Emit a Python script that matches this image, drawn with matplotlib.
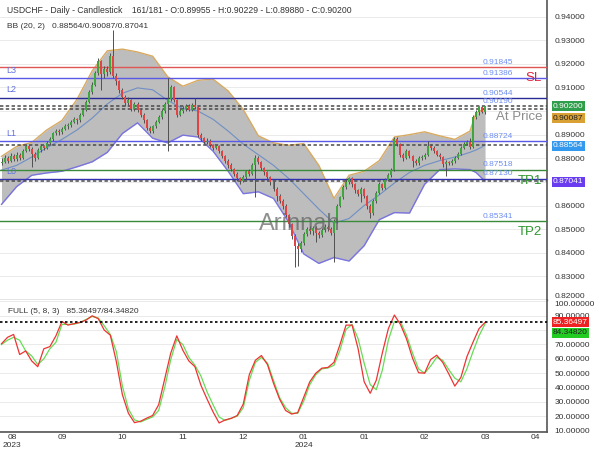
import matplotlib
matplotlib.use("Agg")
import matplotlib.pyplot as plt
import matplotlib.transforms as mtrans
import numpy as np

plt.rcParams["font.family"] = ["Liberation Sans", "DejaVu Sans"]

# USDCHF daily candles (161 of 181 slots)
FIRST_OPEN = 0.8780
CLOSES = [
    0.8785, 0.8800, 0.8790, 0.8810, 0.8795, 0.8815, 0.8800, 0.8830, 0.8850, 0.8840,
    0.8820, 0.8800, 0.8835, 0.8850, 0.8845, 0.8865, 0.8880, 0.8905, 0.8915, 0.8910,
    0.8925, 0.8935, 0.8940, 0.8955, 0.8965, 0.8960, 0.8985, 0.9005, 0.9040, 0.9080,
    0.9110, 0.9160, 0.9210, 0.9155, 0.9180, 0.9165, 0.9235, 0.9150, 0.9125, 0.9090,
    0.9060, 0.9035, 0.9045, 0.9010, 0.9030, 0.9005, 0.8985, 0.8960, 0.8930, 0.8915,
    0.8935, 0.8955, 0.8975, 0.9000, 0.9030, 0.9050, 0.9100, 0.9045, 0.8985, 0.9000,
    0.9010, 0.9020, 0.9005, 0.9025, 0.9015, 0.8900, 0.8885, 0.8870, 0.8875, 0.8855,
    0.8845, 0.8850, 0.8830, 0.8810, 0.8790, 0.8770, 0.8755, 0.8735, 0.8715, 0.8705,
    0.8720, 0.8745, 0.8735, 0.8770, 0.8800, 0.8785, 0.8760, 0.8740, 0.8720, 0.8700,
    0.8670, 0.8640, 0.8620, 0.8600, 0.8560, 0.8520, 0.8470, 0.8430, 0.8415, 0.8440,
    0.8480, 0.8500, 0.8490, 0.8505, 0.8485, 0.8475, 0.8495, 0.8510, 0.8500, 0.8485,
    0.8535, 0.8600, 0.8635, 0.8680, 0.8700, 0.8715, 0.8690, 0.8665, 0.8650, 0.8670,
    0.8640, 0.8600, 0.8570, 0.8620, 0.8655, 0.8690, 0.8675, 0.8710, 0.8730, 0.8750,
    0.8880, 0.8860, 0.8815, 0.8800, 0.8830, 0.8810, 0.8790, 0.8780, 0.8800, 0.8805,
    0.8815, 0.8850, 0.8845, 0.8830, 0.8815, 0.8805, 0.8775, 0.8785, 0.8780, 0.8790,
    0.8800, 0.8820, 0.8845, 0.8862, 0.8868, 0.8848, 0.8975, 0.8995, 0.9015, 0.89955,
    0.9020,
]
HIGHS = [
    0.8800, 0.8812, 0.8808, 0.8822, 0.8818, 0.8825, 0.8822, 0.8840, 0.8862, 0.8858,
    0.8848, 0.8828, 0.8842, 0.8860, 0.8858, 0.8875, 0.8890, 0.8912, 0.8925, 0.8922,
    0.8932, 0.8945, 0.8950, 0.8962, 0.8975, 0.8972, 0.8992, 0.9012, 0.9048, 0.9088,
    0.9122, 0.9168, 0.9225, 0.9218, 0.9192, 0.9190, 0.9245, 0.9343, 0.9160, 0.9132,
    0.9098, 0.9068, 0.9058, 0.9052, 0.9040, 0.9038, 0.9012, 0.8990, 0.8965, 0.8938,
    0.8942, 0.8962, 0.8985, 0.9008, 0.9040, 0.9140, 0.9110, 0.9108, 0.9050, 0.9010,
    0.9020, 0.9030, 0.9028, 0.9035, 0.9057, 0.9020, 0.8905, 0.8890, 0.8885, 0.8880,
    0.8862, 0.8858, 0.8855, 0.8835, 0.8815, 0.8795, 0.8778, 0.8760, 0.8740, 0.8722,
    0.8728, 0.8752, 0.8755, 0.8778, 0.8815, 0.8808, 0.8790, 0.8765, 0.8745, 0.8725,
    0.8705, 0.8678, 0.8648, 0.8628, 0.8605, 0.8565, 0.8525, 0.8478, 0.8440, 0.8450,
    0.8488, 0.8510, 0.8512, 0.8515, 0.8512, 0.8492, 0.8505, 0.8520, 0.8518, 0.8508,
    0.8542, 0.8608, 0.8642, 0.8688, 0.8712, 0.8722, 0.8720, 0.8695, 0.8672, 0.8678,
    0.8675, 0.8645, 0.8605, 0.8628, 0.8662, 0.8698, 0.8695, 0.8718, 0.8738, 0.8758,
    0.8892, 0.8888, 0.8865, 0.8822, 0.8838, 0.8835, 0.8815, 0.8798, 0.8808, 0.8812,
    0.8822, 0.8875, 0.8860, 0.8852, 0.8835, 0.8822, 0.8810, 0.8792, 0.8790, 0.8798,
    0.8808, 0.8828, 0.8852, 0.8870, 0.8878, 0.8885, 0.8982, 0.9005, 0.9022, 0.9020,
    0.90229,
]
LOWS = [
    0.8770, 0.8778, 0.8782, 0.8785, 0.8788, 0.8790, 0.8792, 0.8795, 0.8825, 0.8832,
    0.8765, 0.8790, 0.8795, 0.8828, 0.8835, 0.8840, 0.8858, 0.8872, 0.8898, 0.8900,
    0.8902, 0.8918, 0.8925, 0.8932, 0.8948, 0.8945, 0.8955, 0.8978, 0.9000, 0.9035,
    0.9072, 0.9105, 0.9152, 0.9090, 0.9140, 0.9150, 0.9158, 0.9140, 0.9110, 0.9078,
    0.9050, 0.9020, 0.9025, 0.9000, 0.9002, 0.8995, 0.8975, 0.8950, 0.8918, 0.8905,
    0.8908, 0.8928, 0.8948, 0.8968, 0.8992, 0.8830, 0.9042, 0.9038, 0.8975, 0.8978,
    0.8992, 0.9002, 0.8998, 0.8998, 0.9008, 0.8890, 0.8875, 0.8862, 0.8862, 0.8848,
    0.8835, 0.8838, 0.8822, 0.8800, 0.8782, 0.8760, 0.8745, 0.8725, 0.8705, 0.8692,
    0.8698, 0.8712, 0.8726, 0.8728, 0.8635, 0.8775, 0.8750, 0.8730, 0.8710, 0.8688,
    0.8660, 0.8620, 0.8610, 0.8585, 0.8550, 0.8508, 0.8460, 0.8340, 0.8345, 0.8405,
    0.8432, 0.8470, 0.8480, 0.8475, 0.8446, 0.8462, 0.8468, 0.8488, 0.8490, 0.8475,
    0.8361, 0.8528, 0.8592, 0.8628, 0.8672, 0.8692, 0.8680, 0.8655, 0.8640, 0.8615,
    0.8630, 0.8585, 0.8548, 0.8560, 0.8612, 0.8648, 0.8665, 0.8668, 0.8702, 0.8722,
    0.8745, 0.8850, 0.8805, 0.8790, 0.8795, 0.8800, 0.8765, 0.8770, 0.8772, 0.8792,
    0.8798, 0.8810, 0.8835, 0.8822, 0.8808, 0.8796, 0.8765, 0.8725, 0.8770, 0.8772,
    0.8782, 0.8795, 0.8815, 0.8838, 0.8855, 0.8840, 0.8842, 0.8965, 0.8985, 0.8990,
    0.8988,
]

# Bollinger bands (20, 2) sampled along the chart
BB_IDX = list(range(0, 156, 5)) + [157, 159, 160]
BB_UPPER = [
    0.8808, 0.8850, 0.8867, 0.8920, 0.8960, 0.9050, 0.9170, 0.9255, 0.9262, 0.9250,
    0.9232, 0.9145, 0.9105, 0.9130, 0.9135, 0.9085, 0.9006, 0.8895, 0.8865, 0.8855,
    0.8862, 0.8770, 0.8630, 0.8728, 0.8745, 0.8790, 0.8890, 0.8900, 0.8912, 0.8895,
    0.8880, 0.8915, 0.8990, 0.9005, 0.90087,
]
BB_MID = [
    0.8750, 0.8770, 0.8805, 0.8845, 0.8880, 0.8920, 0.8970, 0.9030, 0.9075, 0.9098,
    0.9090, 0.9045, 0.9010, 0.9000, 0.8965, 0.8915, 0.8860, 0.8815, 0.8770, 0.8715,
    0.8650, 0.8585, 0.8525, 0.8545, 0.8600, 0.8645, 0.8695, 0.8740, 0.8770, 0.8790,
    0.8805, 0.8825, 0.8835, 0.8848, 0.88564,
]
BB_LOWER = [
    0.8605, 0.8680, 0.8728, 0.8738, 0.8745, 0.8764, 0.8785, 0.8825, 0.8905, 0.8950,
    0.8885, 0.8865, 0.8898, 0.8890, 0.8830, 0.8745, 0.8650, 0.8658, 0.8630, 0.8530,
    0.8395, 0.8355, 0.8380, 0.8365, 0.8430, 0.8540, 0.8570, 0.8568, 0.8690, 0.8752,
    0.8755, 0.8752, 0.8740, 0.8715, 0.87041,
]

# Full stochastic (5, 8, 3), every second bar
STOCH_IDX = list(range(0, 161, 2))
STOCH_K = [
    70.5, 75, 77, 63, 65.5, 58.5, 54.5, 67, 68.5, 76,
    86, 83.5, 84.5, 85.4, 87, 90, 88, 80, 76.5, 58,
    35, 22, 15.5, 16.5, 18.6, 20.5, 28, 46, 64, 76,
    66, 58.5, 54.5, 41.5, 32, 23, 15.3, 17.4, 18.5, 20.5,
    28.5, 49, 59, 62.3, 56, 43, 32, 24, 21.5, 22.5,
    33.2, 44, 50, 53.5, 54, 57.5, 70, 83.5, 83.5, 67,
    44, 36, 45, 64, 81, 90.5, 84, 74, 60.5, 50.3,
    50, 59.5, 62.5, 57.5, 49.5, 41, 47, 61.5, 71.5, 81,
    85.36497,
]
STOCH_D = [
    70, 73, 75, 73, 65.5, 62, 56, 60, 67, 71.5,
    84, 84, 84.2, 85.3, 87.5, 89.5, 88.5, 83, 77, 65,
    41, 25, 17.5, 16, 17.8, 19.5, 24, 40, 59.5, 73.5,
    70, 61, 55.5, 48, 37, 28, 19.5, 17, 18.6, 20,
    26, 45, 57.5, 61, 57, 45, 33, 26, 22, 22,
    30.5, 42, 49, 53, 53.6, 55.5, 66, 80.5, 84, 74,
    57, 42, 38.5, 52, 73, 86, 86, 76.5, 64, 53,
    50, 55, 61, 59, 52.5, 46.5, 44, 53, 65, 76,
    84.34820,
]

LEVEL_VALUES = [0.91845, 0.91386, 0.90544, 0.88724, 0.87518, 0.87130, 0.85341]
LEVEL_COLORS = ["#e05555", "#5a5ae6", "#2a2a96", "#5a5ae6", "#3a8a3a", "#3030b0", "#3a8a3a"]
LEVEL_TEXT = [0.91845, 0.91386, 0.90544, 0.90190, 0.88724, 0.87518, 0.87130, 0.85341]
DASHED_VALUES = [0.90200, 0.90087, 0.88564, 0.87041]

X_TICKS = [3.5, 20, 40, 60, 80, 100, 120, 140, 160, 176.5]
X_LABELS = ["08\n2023", "09", "10", "11", "12", "01\n2024", "01", "02", "03", "04"]
PRICE_TICKS = [round(0.82 + 0.01 * k, 2) for k in range(13)]
PRICE_HIDDEN = [0.87, 0.90]      # sit under the value boxes on the right
STOCH_TICKS = list(range(10, 101, 10))
STOCH_HIDDEN = [80]

GREEN = "#3fa63f"
RED = "#e04444"
GRID = "#e6e6e6"
TXT = "#333333"
W = 547.0

fig = plt.figure(figsize=(6, 4.5), dpi=100)
ax = fig.add_axes([0, 150 / 450, W / 600, 300 / 450])
ax2 = fig.add_axes([0, 18 / 450, W / 600, 132 / 450], sharex=ax)

for a in (ax, ax2):
    a.set_axisbelow(True)
    for s in ("top", "left"):
        a.spines[s].set_visible(False)
    a.spines["right"].set_color("#555555")
    a.spines["right"].set_linewidth(1.2)
    a.spines["bottom"].set_color("#777777")
    a.spines["bottom"].set_linewidth(1.0)
    a.tick_params(axis="both", which="both", length=0, labelsize=6, labelcolor=TXT)
    a.tick_params(axis="y", left=False, labelleft=False, labelright=True, pad=5.5)
    a.grid(True, which="minor", axis="x", color=GRID, lw=0.6)
    a.grid(True, which="major", axis="y", color=GRID, lw=0.6)

ax.set_xlim(-0.5, 180.5)
ax2.set_xticks(X_TICKS, X_LABELS)
ax2.set_xticks(range(20, 161, 20), minor=True)
ax.tick_params(axis="x", labelbottom=False)
ax2.tick_params(axis="x", pad=1.5)

# ---- main panel
ax.set_ylim(0.8200, 0.9470)
ax.set_yticks(PRICE_TICKS, ["" if v in PRICE_HIDDEN else f"{v:.5f}" for v in PRICE_TICKS])
ax.yaxis.get_major_ticks()[0].label2.set_va("bottom")

ax.fill_between(BB_IDX, BB_LOWER, BB_UPPER, color="#bdbdbd", lw=0, zorder=1)
ax.plot(BB_IDX, BB_UPPER, color="#d8aa60", lw=1.0, zorder=2)
ax.plot(BB_IDX, BB_LOWER, color="#7a74e0", lw=1.0, zorder=2)
ax.plot(BB_IDX, BB_MID, color="#6f8fc4", lw=0.8, zorder=2)

for v, c in zip(LEVEL_VALUES, LEVEL_COLORS):
    ax.axhline(v, color=c, lw=1.0, zorder=3)
for v in DASHED_VALUES:
    ax.axhline(v, color="#4a4a4a", lw=1.1, ls=(0, (2.2, 1.6)), zorder=3)

opens = np.r_[FIRST_OPEN, CLOSES[:-1]]
closes = np.array(CLOSES)
idx = np.arange(len(closes))
colors = np.where(closes >= opens, GREEN, RED)
ax.vlines(idx, LOWS, HIGHS, color="#505050", lw=0.7, zorder=4)
ax.bar(idx, np.maximum(np.abs(closes - opens), 0.00018), bottom=np.minimum(opens, closes),
       width=0.66, color=colors, lw=0, zorder=5)

ax.text(300 / W, 1 - 224 / 300, "Arinnah", transform=ax.transAxes, fontsize=17,
        color="#606060", alpha=0.7, ha="center", va="center", zorder=6)

ax.text(7 / W, 1 - 10.5 / 300,
        "USDCHF - Daily - Candlestick    161/181 - O:0.89955 - H:0.90229 - L:0.89880 - C:0.90200",
        transform=ax.transAxes, fontsize=6.2, color=TXT, va="center", zorder=7)
ax.text(7 / W, 1 - 26 / 300, "BB (20, 2)   0.88564/0.90087/0.87041",
        transform=ax.transAxes, fontsize=6, color=TXT, va="center", zorder=7)

for v in LEVEL_TEXT:
    ax.annotate(f"{v:.5f}", xy=(483 / W, v), xycoords=("axes fraction", "data"),
                xytext=(0, 1), textcoords="offset points", fontsize=6,
                color="#6f8ff0", ha="left", va="bottom", zorder=7)

blend = mtrans.blended_transform_factory(ax.transAxes, ax.transData)
for name, y in [("L3", 0.9172), ("L2", 0.9091), ("L1", 0.8905), ("L0", 0.8746)]:
    ax.text(6 / W, y, name, transform=blend, fontsize=6.5, color="#6070e0",
            va="center", ha="left", zorder=7)
for name, y, c in [("SL", 0.9139, "#e0203a"), ("At Price", 0.8973, "#8c8c8c"),
                   ("TP1", 0.8705, "#2e962e"), ("TP2", 0.8488, "#2e962e")]:
    ax.text(542 / W, y, name, transform=blend, fontsize=9.5, color=c,
            va="center", ha="right", zorder=7)

for txt, y, fc, tc in [("0.90200", 0.9020, "#2f9e4a", "white"),
                       ("0.90087", 0.8970, "#d9a033", "#222222"),
                       ("0.88564", 0.8854, "#3399ee", "white"),
                       ("0.87041", 0.8700, "#6a3cf0", "white")]:
    ax.text(1.011, y, txt, transform=blend, fontsize=6, color=tc, va="center", ha="left",
            clip_on=False, zorder=8,
            bbox=dict(boxstyle="square,pad=0.18", fc=fc, ec="none"))

# ---- stochastic panel
ax2.set_ylim(9, 101)
ax2.set_yticks(STOCH_TICKS, ["" if v in STOCH_HIDDEN else f"{v:.5f}" for v in STOCH_TICKS])
ax2.yaxis.get_major_ticks()[-1].label2.set_va("top")
ax2.spines["bottom"].set_color("#555555")
ax2.spines["bottom"].set_linewidth(1.2)

ax2.plot(STOCH_IDX, STOCH_D, color="#66dd55", lw=0.9, zorder=3)
ax2.plot(STOCH_IDX, STOCH_K, color="#ee3333", lw=0.9, zorder=4)
ax2.axhline(STOCH_K[-1], color="black", lw=1.2, ls=(0, (1.5, 1.5)), zorder=5)

ax2.text(7.7 / W, 1 - 11.7 / 132, "FULL (5, 8, 3)   85.36497/84.34820",
         transform=ax2.transAxes, fontsize=6, color=TXT, va="center", zorder=7)
blend2 = mtrans.blended_transform_factory(ax2.transAxes, ax2.transData)
for txt, y, fc, tc in [("85.36497", 85.36, "#ee2222", "white"),
                       ("84.34820", 78.2, "#22cc22", "#222222")]:
    ax2.text(1.011, y, txt, transform=blend2, fontsize=6, color=tc, va="center", ha="left",
             clip_on=False, zorder=8,
             bbox=dict(boxstyle="square,pad=0.18", fc=fc, ec="none"))

fig.savefig("out.png", dpi=100)
